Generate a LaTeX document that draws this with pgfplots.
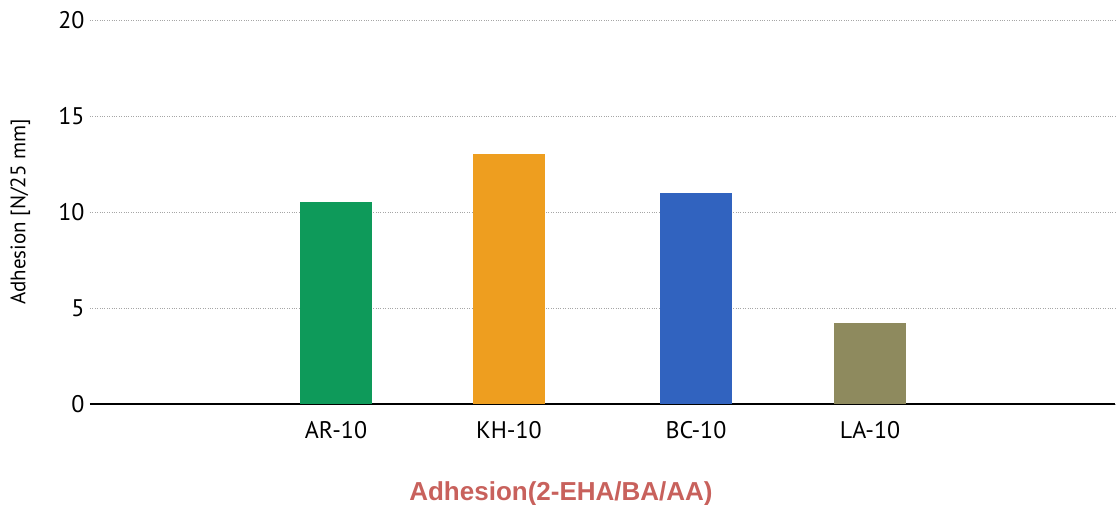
\documentclass[border=0pt]{standalone}
\usepackage{pgfplots}
\pgfplotsset{compat=1.18}
\usepackage{fontspec}
\setmainfont{PT Sans}
\newfontfamily\labelfont{Liberation Sans}

\definecolor{barAR}{HTML}{0E9A5A}
\definecolor{barKH}{HTML}{EE9E1F}
\definecolor{barBC}{HTML}{3163BF}
\definecolor{barLA}{HTML}{8E8A5E}
\definecolor{titlered}{HTML}{C8615C}

\begin{document}
\begin{tikzpicture}
    \begin{axis}[
        scale only axis,
        width=1025pt,
        height=384pt,
        xmin=90, xmax=1115,
        ymin=0, ymax=20,
        ytick={0,5,10,15,20},
        xtick={336,509,696,870},
        xticklabels={AR-10, KH-10, BC-10, LA-10},
        axis x line=bottom,
        axis y line=left,
        y axis line style={draw=none},
        x axis line style={black, line width=1.4pt, -},
        ymajorgrids,
        grid style={gray!70, dotted, line width=0.6pt},
        major tick length=0pt,
        ticklabel style={font=\fontsize{24}{28}\selectfont},
        /pgf/number format/assume math mode=true,
        yticklabel style={xshift=-2pt},
        xticklabel style={yshift=-14pt},
        ylabel={Adhesion [N/25 mm]},
        ylabel style={font=\fontsize{21}{24}\selectfont, at={(axis description cs:-0.068,0.5)}, anchor=center},
        xlabel={\labelfont\bfseries Adhesion(2-EHA/BA/AA)},
        xlabel style={font=\fontsize{26}{30}\selectfont, text=titlered, at={(axis cs:561,0)}, yshift=-96pt, anchor=base},
        bar width=72pt,
        clip=false,
    ]
    \addplot[ybar, draw=none, fill=barAR] coordinates {(336,10.5)};
    \addplot[ybar, draw=none, fill=barKH] coordinates {(509,13.0)};
    \addplot[ybar, draw=none, fill=barBC] coordinates {(696,11.0)};
    \addplot[ybar, draw=none, fill=barLA] coordinates {(870,4.2)};
    \end{axis}
    \pgfresetboundingbox
    \path[use as bounding box] (-90pt,-101pt) rectangle (1028pt,404pt);
\end{tikzpicture}
\end{document}
